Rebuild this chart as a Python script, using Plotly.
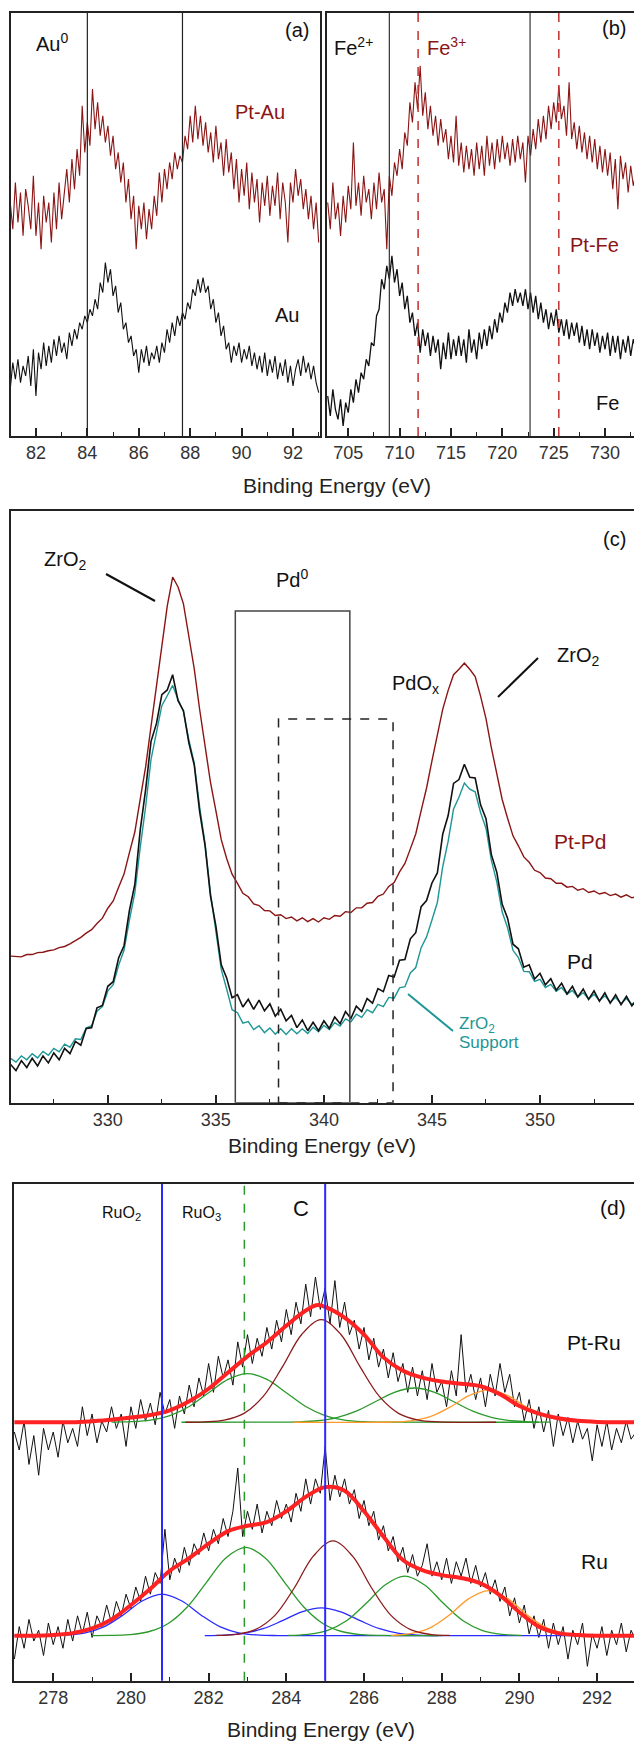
import numpy as np
import plotly.graph_objects as go

W, H = 634, 1745
FONT = "Liberation Sans, Arial, sans-serif"
DARKRED = "#8b1414"
TEAL = "#1f9696"

# ---------------- Panel (a): Au 4f ----------------
au_x0, au_step = 81.0, 0.1
ptau_y = [700,620,760,640,730,600,740,690,620,780,
          600,700,560,720,640,700,580,730,620,760,
          650,720,800,700,830,740,860,780,990,850,
          940,870,1040,920,1000,900,960,880,930,840,
          900,800,850,760,820,700,770,650,720,560,
          690,620,700,590,680,620,720,660,790,700,
          800,740,820,770,850,800,840,820,900,860,
          960,880,990,890,960,870,940,850,910,820,
          930,830,880,780,890,790,850,740,830,700,
          800,720,820,680,790,700,770,640,760,690,
          780,660,750,690,790,650,760,700,580,760,
          700,800,720,770,680,740,650,720,620,700,
          580]
au_y = [140,220,170,230,160,210,180,240,150,260,
        120,250,200,280,210,270,220,290,240,300,
        250,280,230,310,270,320,290,340,320,360,
        340,380,360,410,380,460,430,520,460,500,
        420,450,370,400,320,340,280,300,240,260,
        190,260,220,270,210,250,230,270,220,280,
        250,320,280,340,300,360,330,370,350,400,
        380,440,420,470,430,475,430,450,380,410,
        340,370,300,330,260,280,220,270,240,280,
        220,260,230,270,210,250,200,240,190,250,
        180,230,190,240,170,220,180,230,160,210,
        150,200,230,180,240,190,220,170,210,160,
        130]
au_lines = [84.0, 87.7]

# ---------------- Panel (b): Fe 2p ----------------
fe_x0, fe_step = 703.0, 0.25
ptfe_y = [700,620,760,650,700,600,720,640,750,680,
          880,690,760,660,780,700,740,650,760,680,
          790,700,740,560,780,720,820,780,860,800,
          910,870,1000,940,1060,980,1110,960,1030,920,
          990,900,960,870,950,880,920,830,900,820,
          960,810,880,790,870,800,860,780,880,800,
          870,780,900,810,880,800,890,820,900,830,
          880,810,890,820,900,830,880,760,900,840,
          920,860,950,880,960,890,990,920,1000,940,
          1050,950,990,900,1060,890,940,860,930,850,
          910,830,900,820,890,800,870,790,860,780,
          850,740,830,680,840,770,820,730,810,750,
          790]
fe_y = [120,60,140,80,50,110,30,100,70,140,
        100,170,130,190,170,230,210,280,270,360,
        380,470,440,510,470,540,460,500,420,460,
        380,420,340,370,300,340,250,320,270,310,
        240,300,250,290,200,280,230,310,230,290,
        240,300,240,290,220,320,250,290,230,310,
        260,320,270,330,290,350,310,370,340,400,
        370,430,390,440,400,430,390,440,380,430,
        370,420,350,400,340,380,320,370,330,380,
        310,350,300,350,290,340,300,340,280,330,
        270,320,260,320,270,310,250,300,260,310,
        240,300,250,300,230,290,250,300,240,290,
        260]
fe2_lines = [709.0, 722.7]
fe3_lines = [711.8, 725.5]

# ---------------- Panel (c): Pd 3d / Zr 3d ----------------
pd_x0, pd_step = 325.5, 0.25
ptpd_y = [383,382,381,387,387,392,393,397,399,405,408,415,423,432,443,452,468,482,
          508,527,563,597,653,707,793,877,983,1087,1203,1297,1373,1347,1303,1217,
          1133,1027,933,837,763,687,638,597,573,547,538,519,515,502,501,489,491,481,
          485,475,483,473,481,472,483,479,489,487,499,497,509,509,521,523,539,545,
          565,575,603,625,663,702,763,822,893,957,1028,1077,1118,1132,1148,1132,
          1113,1062,1003,927,863,792,743,697,671,642,628,607,601,587,585,573,573,
          563,565,555,559,549,553,545,549,541,545,537,543,535,539]
pd_y = [100,84,110,92,116,96,122,104,130,112,142,128,160,150,194,196,248,254,
        304,316,378,410,502,570,712,818,944,990,1066,1078,1118,1050,1024,940,
        882,760,672,540,462,360,326,274,282,250,270,244,268,240,258,226,244,214,
        228,196,216,188,210,188,214,194,224,206,238,220,252,238,272,260,298,290,
        332,328,372,374,428,444,512,528,574,600,702,750,834,844,884,850,
        848,778,742,648,602,518,482,414,402,354,360,323,338,308,324,294,312,
        284,304,276,297,270,292,265,287,260,282,256,278,253,270]
zro2_y = [116,106,122,112,128,117,134,124,142,133,153,145,167,165,195,201,239,251,
          292,308,359,398,477,548,667,773,897,968,1037,1063,1090,1053,1022,948,
          887,773,677,548,452,348,297,243,235,208,212,191,201,183,195,179,193,178,
          193,180,193,181,197,185,202,191,209,200,219,211,231,223,243,235,257,251,
          275,273,300,303,339,353,405,433,477,523,617,683,767,798,835,819,
          812,758,717,633,577,498,457,398,379,343,342,317,322,301,309,291,301,
          283,293,276,287,271,283,267,279,263,275,259,272,257,268]
pd0_box = [335.9, 341.2, 1284]
pdox_box = [337.9, 343.2, 1002]

# ---------------- Panel (d): Ru 3d / C 1s ----------------
ru_x0, ru_step = 277.0, 0.125
ptru_raw = [690,640,720,600,680,570,700,640,690,620,
            720,660,700,650,760,680,740,660,720,690,
            760,700,740,650,760,700,780,720,770,710,
            800,740,780,700,790,740,820,760,840,790,
            880,800,900,840,890,820,940,870,960,880,
            950,900,980,920,1000,940,1030,960,1050,990,
            1100,1010,1120,1030,1090,990,1110,980,1050,960,
            1000,920,980,890,950,870,920,840,910,830,
            880,800,870,790,860,780,880,800,830,760,
            860,790,960,800,850,780,840,760,850,790,
            880,800,850,760,800,720,780,700,760,690,
            750,650,740,680,730,660,720,670,700,610,
            710,650,720,640,700,660,720,670,690]
ru_raw = [60,150,90,170,110,140,70,160,100,150,
          90,170,110,180,130,190,120,180,150,210,
          160,220,180,240,200,260,220,290,240,300,
          270,420,280,340,300,370,320,380,350,410,
          360,420,380,450,400,470,590,400,470,420,
          490,410,470,430,500,450,490,440,520,470,
          560,490,560,520,650,500,570,510,560,490,
          530,450,500,430,470,390,430,360,400,330,
          370,300,350,290,320,380,290,330,280,340,
          270,330,290,340,270,320,260,300,240,280,
          220,260,180,230,160,210,130,180,120,170,
          90,160,100,150,60,140,100,160,40,130,
          90,150,70,140,100,160,80,140,110]

# fitted components, Pt-Ru (baseline 717)
ptru_g1_x = [279.5,280,280.5,281,281.5,282,282.5,283,283.5,284,284.5,285,285.5,286,286.5,290.5]
ptru_g1_y = [717.3,718.5,722.9,735.3,760.8,798.9,836.1,852,836.1,798.9,760.8,735.3,722.9,718.5,717.3,717]
ptru_br_x = [281.4,281.9,282.4,282.9,283.4,283.9,284.4,284.9,285.4,285.9,286.4,286.9,287.4,287.9,289.4]
ptru_br_y = [717,718.1,723,741.1,788,870.6,961.2,1002,961.2,870.6,788,741.1,723,718.1,717]
ptru_g2_x = [281.3,283.8,284.3,284.8,285.3,285.8,286.3,286.8,287.3,287.8,288.3,288.8,289.3,289.8,290.3,290.8]
ptru_g2_y = [717,717.2,718.1,721.2,729.9,747.8,774.6,800.8,812,800.8,774.6,747.8,729.9,721.2,718.1,717.2]
ptru_or_x = [284.2,286.7,287.2,287.7,288.2,288.7,289.2,289.7,290.2,290.7,291.2,291.7]
ptru_or_y = [717,717.7,721,732.5,758.2,791,807,791,758.2,732.5,721,717.7]
ptru_fit_x = [277,277.5,278,278.5,279,279.5,280,280.5,281,281.5,282,282.5,283,283.5,284,284.5,
              284.8,285,285.5,286,286.5,287,287.5,288,288.5,289,289.5,290,290.5,291,291.5,292,292.5,293]
ptru_fit_y = [717,717,717,717,720,724,730,737,750,775,810,855,900,939,985,1027,
              1042,1037,1007,960,897,860,841,830,824,817,795,762,741,728,721,718,717,717]

# fitted components, Ru (baseline 125)
ru_b1_x = [277,277.8,278.3,278.8,279.3,279.8,280.3,280.8,281.3,281.8,282.3,282.8,283.3,283.8,292]
ru_b1_y = [125,125.2,126.5,132.2,149.3,182.5,221.7,240,221.7,182.5,149.3,132.2,126.5,125.2,125]
ru_g1_x = [279.0,279.45,279.95,280.45,280.95,281.45,281.95,282.45,282.95,283.45,283.95,284.45,284.95,285.45,285.95,286.45,288]
ru_g1_y = [125,125.5,127.7,135.8,158.1,204.6,273.6,341.2,370,341.2,273.6,204.6,158.1,135.8,127.7,125.5,125]
ru_b2_x = [281.9,282.4,282.9,283.4,283.9,284.4,284.9,285.4,285.9,286.4,286.9,287.4,287.9]
ru_b2_y = [125.3,126.6,131.5,144.2,166.5,191,202,191,166.5,144.2,131.5,126.6,125.3]
ru_br_x = [282.2,282.7,283.2,283.7,284.2,284.7,285.2,285.7,286.2,286.7,287.2,287.7,288.2]
ru_br_y = [125.5,128.5,141.6,180.5,256.5,346.2,388,346.2,256.5,180.5,141.6,128.5,125.5]
ru_g2_x = [284.05,284.55,285.05,285.55,286.05,286.55,287.05,287.55,288.05,288.55,289.05,289.55,290.05]
ru_g2_y = [125.6,128.5,139,166.1,214,266.4,290,266.4,214,166.1,139,128.5,125.6]
ru_or_x = [286.7,287.2,287.7,288.2,288.7,289.2,289.7,290.2,290.7,291.2,291.7]
ru_or_y = [126,130.5,146.5,182.3,227.8,250,227.8,182.3,146.5,130.5,126]
ru_fit_x = [277,277.5,278,278.5,279,279.5,280,280.5,281,281.5,282,282.5,283,283.5,284,284.5,
            285,285.5,286,286.5,287,287.5,288,288.5,289,289.5,290,290.5,291,291.5,292,293]
ru_fit_y = [125,125,127,132,145,170,210,255,305,340,380,415,430,440,470,510,
            537,527,470,400,335,307,293,285,270,237,190,150,132,127,125,125]
ru_lines_blue = [280.8, 285.0]
ru_line_green = [282.92]


def grid(x0, step, vals):
    return x0 + step * np.arange(len(vals))


fig = go.Figure()

def add(x, y, ax, color, width, shape="linear"):
    fig.add_trace(go.Scatter(x=x, y=y, mode="lines", xaxis="x" + ax, yaxis="y" + ax,
                             line=dict(color=color, width=width, shape=shape),
                             hoverinfo="skip", showlegend=False))

# panel a
add(grid(au_x0, au_step, ptau_y), ptau_y, "", DARKRED, 1.1)
add(grid(au_x0, au_step, au_y), au_y, "", "#111111", 1.1)
# panel b
add(grid(fe_x0, fe_step, ptfe_y), ptfe_y, "2", DARKRED, 1.1)
add(grid(fe_x0, fe_step, fe_y), fe_y, "2", "#111111", 1.3)
# panel c
add(grid(pd_x0, pd_step, ptpd_y), ptpd_y, "3", DARKRED, 1.4)
add(grid(pd_x0, pd_step, zro2_y), zro2_y, "3", TEAL, 1.4)
add(grid(pd_x0, pd_step, pd_y), pd_y, "3", "#111111", 1.6)
# panel d raw
add(grid(ru_x0, ru_step, ptru_raw), ptru_raw, "4", "#111111", 1.0)
add(grid(ru_x0, ru_step, ru_raw), ru_raw, "4", "#111111", 1.0)
# components
GREEN, BROWN, BLUE, ORANGE = "#2a9a2a", "#8b1a1a", "#2a2aff", "#ff9a2a"
add(ptru_g1_x, ptru_g1_y, "4", GREEN, 1.3, "spline")
add(ptru_g2_x, ptru_g2_y, "4", GREEN, 1.3, "spline")
add(ptru_or_x, ptru_or_y, "4", ORANGE, 1.3, "spline")
add(ptru_br_x, ptru_br_y, "4", BROWN, 1.3, "spline")
add(ru_b1_x, ru_b1_y, "4", BLUE, 1.3, "spline")
add(ru_b2_x, ru_b2_y, "4", BLUE, 1.3, "spline")
add(ru_g1_x, ru_g1_y, "4", GREEN, 1.3, "spline")
add(ru_g2_x, ru_g2_y, "4", GREEN, 1.3, "spline")
add(ru_or_x, ru_or_y, "4", ORANGE, 1.3, "spline")
add(ru_br_x, ru_br_y, "4", BROWN, 1.3, "spline")
add(ptru_fit_x, ptru_fit_y, "4", "#ff2222", 4, "spline")
add(ru_fit_x, ru_fit_y, "4", "#ff2222", 4, "spline")


def xax(domain, rng, tick0, dtick, mdtick, anchor):
    return dict(domain=domain, range=rng, anchor=anchor, showline=True, linecolor="#222",
                linewidth=1.6, mirror=True, ticks="inside", ticklen=8, tickwidth=1.5,
                tickcolor="#222", tick0=tick0, dtick=dtick,
                minor=dict(ticks="inside", ticklen=4, tickwidth=1.3, tickcolor="#222",
                           tick0=tick0, dtick=mdtick),
                showgrid=False, zeroline=False,
                tickfont=dict(size=18, family=FONT, color="#333"))


def yax(domain, rng, anchor, mirror):
    return dict(domain=domain, range=rng, anchor=anchor, showline=True, linecolor="#222",
                linewidth=1.6, mirror=mirror, ticks="", showticklabels=False,
                showgrid=False, zeroline=False)


def fx(p):
    return p / W


def fy(p):
    return 1 - p / H


fig.update_layout(
    width=W, height=H, margin=dict(l=0, r=0, t=0, b=0),
    paper_bgcolor="white", plot_bgcolor="white", showlegend=False,
    xaxis=xax([fx(11), fx(320)], [81.03, 93.05], 82, 2, 1, "y"),
    yaxis=yax([fy(436), fy(13)], [0, 1268], "x", True),
    xaxis2=xax([fx(327), 1.0], [702.93, 732.82], 705, 5, 2.5, "y2"),
    yaxis2=yax([fy(436), fy(13)], [0, 1268], "x2", False),
    xaxis3=xax([fx(11), 1.0], [325.52, 354.35], 330, 5, 2.5, "y3"),
    yaxis3=yax([fy(1102.7), fy(511)], [0, 1545.5], "x3", False),
    xaxis4=xax([fx(14), 1.0], [276.99, 292.95], 278, 2, 1, "y4"),
    yaxis4=yax([fy(1680.7), fy(1184)], [0, 1378], "x4", False),
)

shapes = []
for v in au_lines:
    shapes.append(dict(type="line", xref="x", yref="y domain", x0=v, x1=v, y0=0, y1=1,
                       line=dict(color="#222", width=1.2)))
for v in fe2_lines:
    shapes.append(dict(type="line", xref="x2", yref="y2 domain", x0=v, x1=v, y0=0, y1=1,
                       line=dict(color="#333", width=1.2)))
for v in fe3_lines:
    shapes.append(dict(type="line", xref="x2", yref="y2 domain", x0=v, x1=v, y0=0, y1=1,
                       line=dict(color="#c03030", width=1.5, dash="dash")))
shapes.append(dict(type="rect", xref="x3", yref="y3", x0=pd0_box[0], x1=pd0_box[1], y0=0,
                   y1=pd0_box[2], line=dict(color="#444", width=1.5)))
shapes.append(dict(type="rect", xref="x3", yref="y3", x0=pdox_box[0], x1=pdox_box[1], y0=0,
                   y1=pdox_box[2], line=dict(color="#222", width=1.5, dash="dash")))
for v in ru_lines_blue:
    shapes.append(dict(type="line", xref="x4", yref="y4 domain", x0=v, x1=v, y0=0, y1=1,
                       line=dict(color="#2a2aff", width=2)))
for v in ru_line_green:
    shapes.append(dict(type="line", xref="x4", yref="y4 domain", x0=v, x1=v, y0=0, y1=1,
                       line=dict(color="#2a9a2a", width=1.5, dash="dash")))
# pointer lines
for (x0, y0, x1, y1, c) in [(106, 574, 155, 601, "#111"), (538, 658, 498, 697, "#111"),
                            (408, 994, 453, 1031, TEAL)]:
    shapes.append(dict(type="line", xref="paper", yref="paper", x0=fx(x0), y0=fy(y0),
                       x1=fx(x1), y1=fy(y1), line=dict(color=c, width=2)))
fig.update_layout(shapes=shapes)


def ann(text, x, y, size=20, color="#111"):
    return dict(text=text, x=fx(x), y=fy(y), xref="paper", yref="paper", showarrow=False,
                font=dict(size=size, color=color, family=FONT), xanchor="center",
                yanchor="middle")


anns = [
    ann("Au<sup>0</sup>", 52, 43),
    ann("(a)", 297, 30),
    ann("Pt-Au", 260, 112, color=DARKRED),
    ann("Au", 287, 315),
    ann("Fe<sup>2+</sup>", 353, 46),
    ann("Fe<sup>3+</sup>", 446, 46, color=DARKRED),
    ann("(b)", 614, 28),
    ann("Pt-Fe", 594, 245, color=DARKRED),
    ann("Fe", 607, 403),
    ann("Binding Energy (eV)", 337, 485, size=21, color="#222"),
    ann("ZrO<sub>2</sub>", 65, 560),
    ann("Pd<sup>0</sup>", 292, 578),
    ann("(c)", 614, 539),
    ann("ZrO<sub>2</sub>", 578, 656),
    ann("PdO<sub>x</sub>", 415, 684),
    ann("Pt-Pd", 580, 841, size=21, color=DARKRED),
    ann("Pd", 580, 961, size=21),
    ann("ZrO<sub>2</sub>", 477, 1025, size=17, color=TEAL),
    ann("Support", 489, 1042, size=17, color=TEAL),
    ann("Binding Energy (eV)", 322, 1145, size=21, color="#222"),
    ann("RuO<sub>2</sub>", 121, 1213, size=16),
    ann("RuO<sub>3</sub>", 201, 1213, size=16),
    ann("C", 301, 1208, size=22),
    ann("(d)", 613, 1207, size=21),
    ann("Pt-Ru", 594, 1342, size=21),
    ann("Ru", 594, 1561, size=21),
    ann("Binding Energy (eV)", 321, 1729, size=21, color="#222"),
]
fig.update_layout(annotations=anns)

fig.write_html("out.html", config={"displayModeBar": False},
               post_script="document.body.style.margin='0';"
                           "document.documentElement.style.overflow='hidden';")
